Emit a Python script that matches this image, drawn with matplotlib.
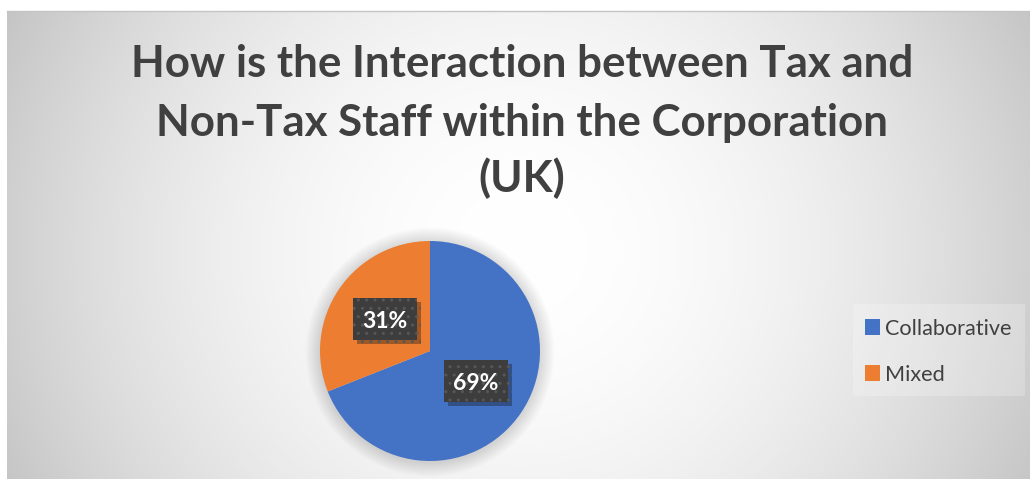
import numpy as np
import matplotlib
matplotlib.use("Agg")
import matplotlib.pyplot as plt
import matplotlib.patheffects as pe
from matplotlib.patches import Circle, Rectangle

categories = ["Collaborative", "Mixed"]
shares = [69, 31]
colors = ["#4472C4", "#ED7D31"]
title_lines = ["How is the Interaction between Tax and",
               "Non-Tax Staff within the Corporation",
               "(UK)"]

FONT = "Lato"
TXT = "#404040"
W, H = 1030, 479
fig = plt.figure(figsize=(W / 100, H / 100), dpi=100)
fig.patch.set_facecolor("white")
renderer = fig.canvas.get_renderer()


def px(x, y):
    return x / W, 1 - y / H


def fit_width(t, target):
    w = t.get_window_extent(renderer).width
    t.set_fontsize(t.get_fontsize() * target / w)


# Radial grey-to-white background of the chart area
x0, y0 = 7, 11
bg = fig.add_axes([x0 / W, 0, (W - x0) / W, (H - y0) / H])
bg.set_axis_off()
gy, gx = np.mgrid[y0:H, x0:W].astype(float)
d = np.hypot(gx - 520, (gy - 250) * 1.05)
val = 1 - 0.22 * np.clip(d / 560, 0, None) ** 1.9
val = np.clip(val, 0.74, 1.0)
bg.imshow(np.dstack([val, val, val]), extent=[0, 1, 0, 1], aspect="auto",
          interpolation="bilinear", origin="upper")
bg.set_xlim(0, 1)
bg.set_ylim(0, 1)
fig.add_artist(plt.Line2D([x0 / W, 1], [1 - y0 / H] * 2, color="#c4c4c4", lw=1))

# Title, one line at a time
baselines = [77, 136, 192]
base_size = None
for line, yb in zip(title_lines, baselines):
    t = fig.text(*px(522, yb), line, ha="center", va="baseline", fontsize=30,
                 fontweight="bold", family=FONT, color=TXT)
    if base_size is None:
        fit_width(t, 783)
        base_size = t.get_fontsize()
    else:
        t.set_fontsize(base_size)

# Pie
rad = 110
cxp, cyp = 430, 351
m = 1.15
ax = fig.add_axes([(cxp - rad * m) / W, 1 - (cyp + rad * m) / H,
                   2 * rad * m / W, 2 * rad * m / H])
ax.set_axis_off()
for k in range(12):
    ax.add_patch(Circle((0, -0.01), 1.0 + 0.011 * (k + 1), color="black",
                        alpha=0.011, zorder=0, lw=0))
ax.pie(shares, colors=colors, startangle=90, counterclock=False,
       radius=1.0, wedgeprops=dict(linewidth=0))
ax.set_xlim(-m, m)
ax.set_ylim(-m, m)
ax.set_aspect("equal")

# Data labels: dark dotted boxes with a drop shadow
box_w, box_h = 64 / rad, 42 / rad
label_pos = [(476, 381), (385, 319)]
for (lx, ly), v in zip(label_pos, shares):
    cx, cy = (lx - cxp) / rad, -(ly - cyp) / rad
    box = Rectangle((cx - box_w / 2, cy - box_h / 2), box_w, box_h,
                    facecolor="#3d3d3d", edgecolor="#575757", hatch="..",
                    linewidth=0, zorder=4)
    box.set_path_effects([pe.SimplePatchShadow(offset=(3, -3), alpha=0.35),
                          pe.Normal()])
    ax.add_patch(box)
    ax.text(cx, cy, f"{v}%", ha="center", va="center_baseline", fontsize=16.5,
            fontweight="bold", family=FONT, color="white", zorder=5)

# Legend
fig.patches.append(Rectangle(px(853, 396), 172 / W, 92 / H,
                             transform=fig.transFigure, facecolor="white",
                             alpha=0.22, lw=0))
for i, (c, name) in enumerate(zip(colors, categories)):
    yc = 327 + i * 46
    fig.patches.append(Rectangle(px(865, yc + 8), 15 / W, 16 / H,
                                 transform=fig.transFigure, facecolor=c, lw=0))
    t = fig.text(*px(885, yc), name, ha="left", va="center_baseline",
                 fontsize=19, family=FONT, color=TXT)
    if i == 0:
        fit_width(t, 127)
        leg_size = t.get_fontsize()
    else:
        t.set_fontsize(leg_size)

fig.savefig("out.png", dpi=100)
